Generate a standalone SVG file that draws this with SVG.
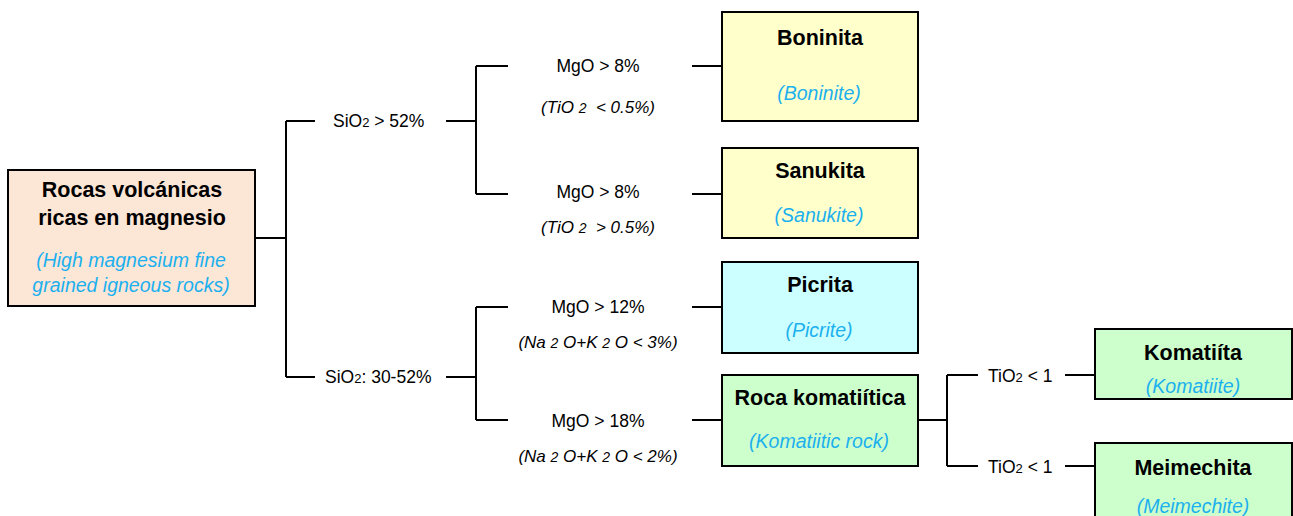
<svg xmlns="http://www.w3.org/2000/svg" width="1293" height="516" viewBox="0 0 1293 516">
  <style>
    .box { stroke: #000; stroke-width: 2; }
    .peach { fill: #FCE6D6; }
    .yellow { fill: #FFFFCC; }
    .cyan { fill: #CCFFFF; }
    .green { fill: #CCFFCC; }
    .title { font-family: "Liberation Sans", Arial, sans-serif; font-weight: bold; font-size: 21.5px; fill: #000; text-anchor: middle; }
    .en { font-family: "Liberation Sans", Arial, sans-serif; font-style: italic; font-size: 19.5px; fill: #1CB0EE; text-anchor: middle; }
    .cond { font-family: "Liberation Sans", Arial, sans-serif; font-size: 17.5px; fill: #000; }
    .note { font-family: "Liberation Sans", Arial, sans-serif; font-style: italic; font-size: 17px; fill: #000; text-anchor: middle; white-space: pre; }
    .sub { font-size: 13px; }
    .note .sub { font-size: 14px; }
    .wire { stroke: #000; stroke-width: 2; fill: none; }
  </style>

  <!-- connectors and branch labels -->
  <g id="connectors">
    <path class="wire" d="M255,238 H286 M286,121 V377 M286,121 H315 M286,377 H315"/>
    <path class="wire" d="M446,121 H476 M476,66 V194 M476,66 H508 M476,194 H508 M692,66 H722 M692,194 H722"/>
    <path class="wire" d="M446,377 H476 M476,307 V420 M476,307 H508 M476,420 H508 M692,307 H722 M692,420 H722"/>
    <path class="wire" d="M918,420 H947 M947,375 V466 M947,375 H978 M947,466 H978 M1065,375 H1095 M1065,466 H1095"/>

    <text class="cond" x="333" y="127">SiO<tspan class="sub">2</tspan> &gt; 52%</text>
    <text class="cond" x="325" y="383">SiO<tspan class="sub">2</tspan>: 30-52%</text>

    <text class="cond" x="598" y="72" text-anchor="middle">MgO &gt; 8%</text>
    <text class="note" x="598" y="113">(TiO <tspan class="sub">2</tspan>  &lt; 0.5%)</text>
    <text class="cond" x="598" y="198" text-anchor="middle">MgO &gt; 8%</text>
    <text class="note" x="598" y="233">(TiO <tspan class="sub">2</tspan>  &gt; 0.5%)</text>

    <text class="cond" x="598" y="313" text-anchor="middle">MgO &gt; 12%</text>
    <text class="note" x="598" y="348">(Na <tspan class="sub">2</tspan> O+K <tspan class="sub">2</tspan> O &lt; 3%)</text>
    <text class="cond" x="598" y="427" text-anchor="middle">MgO &gt; 18%</text>
    <text class="note" x="598" y="462">(Na <tspan class="sub">2</tspan> O+K <tspan class="sub">2</tspan> O &lt; 2%)</text>

    <text class="cond" x="988" y="382">TiO<tspan class="sub">2</tspan> &lt; 1</text>
    <text class="cond" x="988" y="473">TiO<tspan class="sub">2</tspan> &lt; 1</text>
  </g>

  <g id="node-root">
    <rect class="box peach" x="8" y="170" width="247" height="136"/>
    <text class="title" x="132" y="197">Rocas volcánicas</text>
    <text class="title" x="132" y="225">ricas en magnesio</text>
    <text class="en" x="131" y="267">(High magnesium fine</text>
    <text class="en" x="131" y="292">grained igneous rocks)</text>
  </g>

  <g id="node-boninita">
    <rect class="box yellow" x="722" y="12" width="196" height="109"/>
    <text class="title" x="820" y="45">Boninita</text>
    <text class="en" x="819" y="100">(Boninite)</text>
  </g>

  <g id="node-sanukita">
    <rect class="box yellow" x="722" y="148" width="196" height="90"/>
    <text class="title" x="820" y="178">Sanukita</text>
    <text class="en" x="819" y="222">(Sanukite)</text>
  </g>

  <g id="node-picrita">
    <rect class="box cyan" x="722" y="262" width="196" height="91"/>
    <text class="title" x="820" y="292">Picrita</text>
    <text class="en" x="819" y="337">(Picrite)</text>
  </g>

  <g id="node-roca-komatiitica">
    <rect class="box green" x="722" y="375" width="196" height="91"/>
    <text class="title" x="820" y="405">Roca komatiítica</text>
    <text class="en" x="819" y="448">(Komatiitic rock)</text>
  </g>

  <g id="node-komatiita">
    <rect class="box green" x="1095" y="329" width="197" height="70"/>
    <text class="title" x="1193" y="360">Komatiíta</text>
    <text class="en" x="1193" y="393">(Komatiite)</text>
  </g>

  <g id="node-meimechita">
    <rect class="box green" x="1095" y="443" width="197" height="80"/>
    <text class="title" x="1193" y="475">Meimechita</text>
    <text class="en" x="1193" y="513">(Meimechite)</text>
  </g>
</svg>
